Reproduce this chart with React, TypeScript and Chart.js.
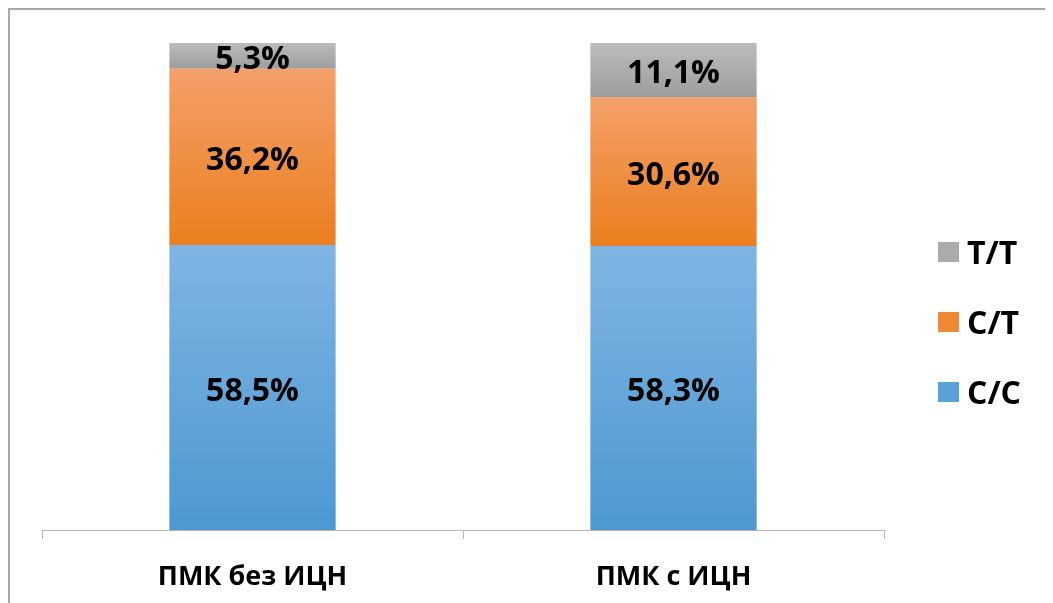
import React, { useEffect, useRef } from "react";
import { Chart, registerables } from "chart.js";

Chart.register(...registerables);

// Categories and genotype shares (%)
const categories = ["ПМК без ИЦН", "ПМК с ИЦН"];
const seriesNames = ["C/C", "C/T", "T/T"];
const ccValues = [58.5, 58.3];
const ctValues = [36.2, 30.6];
const ttValues = [5.3, 11.1];
const seriesValues = [ccValues, ctValues, ttValues];

// Gradient stops per series: [top, bottom]
const gradientStops: [string, string][] = [
  ["#80b5e3", "#4d98d2"],
  ["#f4a06a", "#eb7f1e"],
  ["#bcbcbc", "#9d9d9d"],
];
const legendColors = ["#5aa0d9", "#ef8a34", "#ababab"];

const FONT = "'Open Sans', 'DejaVu Sans', sans-serif";

const fmt = (v: number) => v.toFixed(1).replace(".", ",") + "%";

function segmentFill(ctx: any, i: number) {
  const stops = gradientStops[i];
  const chart = ctx.chart;
  if (ctx.type !== "data" || !chart.chartArea || !chart.scales.y) return stops[0];
  const idx = ctx.dataIndex;
  let base = 0;
  for (let j = 0; j < i; j++) base += seriesValues[j][idx];
  const y = chart.scales.y;
  const top = y.getPixelForValue(base + seriesValues[i][idx]);
  const bottom = y.getPixelForValue(base);
  const g = chart.ctx.createLinearGradient(0, top, 0, bottom);
  g.addColorStop(0, stops[0]);
  g.addColorStop(1, stops[1]);
  return g;
}

// Value labels centred inside each segment
const valueLabels = {
  id: "valueLabels",
  afterDatasetsDraw(chart: any) {
    const { ctx } = chart;
    ctx.save();
    ctx.font = `bold 32px ${FONT}`;
    ctx.fillStyle = "#000";
    ctx.textAlign = "center";
    ctx.textBaseline = "middle";
    chart.data.datasets.forEach((ds: any, i: number) => {
      const meta = chart.getDatasetMeta(i);
      meta.data.forEach((el: any, k: number) => {
        const p = el.getProps(["x", "y", "base"], true);
        ctx.fillText(fmt(ds.data[k]), p.x, (p.y + p.base) / 2 + 4);
      });
    });
    ctx.restore();
  },
};

// Legend at the right, top-most series first
const sideLegend = {
  id: "sideLegend",
  afterDraw(chart: any) {
    const { ctx, chartArea } = chart;
    const x0 = chartArea.right + 54;
    const y0 = chartArea.top + 209;
    const step = 70;
    ctx.save();
    ctx.font = `bold 32px ${FONT}`;
    ctx.textAlign = "left";
    ctx.textBaseline = "middle";
    for (let n = 0; n < seriesNames.length; n++) {
      const i = seriesNames.length - 1 - n;
      const cy = y0 + n * step;
      ctx.fillStyle = legendColors[i];
      ctx.fillRect(x0, cy - 10, 21, 20);
      ctx.fillStyle = "#000";
      ctx.fillText(seriesNames[i], x0 + 29, cy + 3);
    }
    ctx.restore();
  },
};

export default function App() {
  const canvasRef = useRef<HTMLCanvasElement | null>(null);

  useEffect(() => {
    if (!canvasRef.current) return;
    const chart = new Chart(canvasRef.current, {
      type: "bar",
      data: {
        labels: categories,
        datasets: seriesValues.map((vals, i) => ({
          label: seriesNames[i],
          data: vals,
          backgroundColor: (c: any) => segmentFill(c, i),
          borderWidth: 0,
          barPercentage: 0.395,
          categoryPercentage: 1,
        })),
      },
      options: {
        animation: false,
        responsive: true,
        maintainAspectRatio: false,
        layout: { padding: { left: 32, top: 33, right: 169, bottom: 0 } },
        plugins: {
          legend: { display: false },
          tooltip: { enabled: false },
        },
        scales: {
          x: {
            stacked: true,
            grid: {
              display: true,
              drawOnChartArea: false,
              drawTicks: true,
              tickLength: 9,
              color: "#b5b5b5",
              offset: true,
            },
            border: { display: true, color: "#b5b5b5", width: 1 },
            ticks: {
              color: "#000",
              padding: 22,
              font: { family: FONT, size: 27, weight: "bold" },
            },
            afterFit: (scale: any) => {
              scale.height = 73;
            },
          },
          y: {
            stacked: true,
            display: false,
            min: 0,
            max: 100,
          },
        },
      },
      plugins: [valueLabels, sideLegend],
    });
    return () => chart.destroy();
  }, []);

  return (
    <div
      style={{
        width: 1045,
        height: 595,
        boxSizing: "border-box",
        borderTop: "2px solid #a8a8a8",
        borderLeft: "2px solid #a8a8a8",
        background: "#fff",
      }}
    >
      <div style={{ position: "relative", width: 1043, height: 593 }}>
        <canvas ref={canvasRef} />
      </div>
    </div>
  );
}
